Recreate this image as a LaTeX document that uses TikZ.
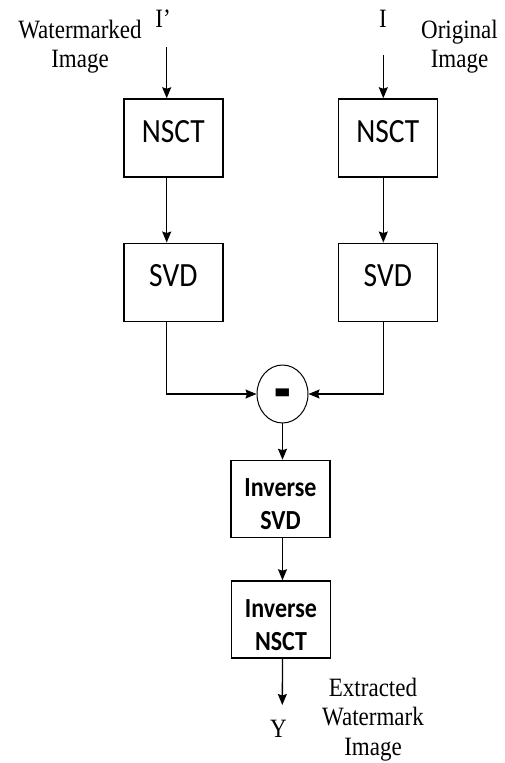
\documentclass[tikz,border=0pt]{standalone}
\usepackage{fontspec}
\setmainfont{Liberation Serif}
\newfontfamily\boxfont{Carlito}
\usepackage{graphicx}
\usetikzlibrary{arrows.meta,shapes.geometric}
\newcommand\vstr[1]{\scalebox{1}[1.15]{#1}}
\begin{document}
\begin{tikzpicture}[x=1pt,y=-1pt,
  box/.style={draw, line width=1.5pt, minimum width=99pt, minimum height=78pt, inner sep=0pt,
    font=\boxfont\fontsize{29.5}{34}\selectfont, text height=22pt, text depth=14pt},
  ibox/.style={draw, line width=1.5pt, minimum width=99pt, minimum height=77pt, inner sep=0pt,
    font=\boxfont\bfseries\fontsize{24}{29}\selectfont, text height=20pt, text depth=25pt},
  lab/.style={font=\fontsize{23}{26}\selectfont, inner sep=0pt, anchor=base},
  arr/.style={line width=1.3pt, -{Stealth[length=11pt,width=9pt,inset=1.5pt]}},
  ln/.style={line width=1.3pt}]
\useasboundingbox[fill=white] (0,0) rectangle (505,763);

% labels
\node[lab] (wm) at (80,38) {\vstr{\begin{tabular}[t]{@{}c@{}}Watermarked\\Image\end{tabular}}};
\node[lab] (ip) at (163,27) {\vstr{I’}};
\node[lab] (i) at (383,27) {\vstr{I}};
\node[lab] (orig) at (459.5,38) {\vstr{\begin{tabular}[t]{@{}c@{}}Original\\Image\end{tabular}}};
\node[lab] (y) at (278.5,737) {\vstr{Y}};
\node[lab] (ext) at (373,696) {\vstr{\begin{tabular}[t]{@{}c@{}}Extracted\\Watermark\\Image\end{tabular}}};

% boxes
\node[box] (n1) at (173.3,138) {\vstr{NSCT}};
\node[box] (n2) at (387.8,138) {\vstr{NSCT}};
\node[box] (s1) at (173.3,282.3) {\vstr{SVD}};
\node[box] (s2) at (387.8,282.3) {\vstr{SVD}};
\node[draw, ellipse, line width=1pt, minimum width=51pt, minimum height=57pt, inner sep=0pt,
  text height=41pt, text depth=0pt] (m) at (282.5,394)
  {\boxfont\bfseries\fontsize{40}{40}\selectfont\scalebox{1.35}[1.9]{-}};
\node[ibox] (inv1) at (280.5,499) {\vstr{\begin{tabular}[t]{@{}c@{}}Inverse\\SVD\end{tabular}}};
\node[ibox] (inv2) at (281,619.5) {\vstr{\begin{tabular}[t]{@{}c@{}}Inverse\\NSCT\end{tabular}}};

% connector endpoints
\coordinate (a1) at (166.7,47);
\coordinate (a2) at (383.3,55);
\coordinate (yend) at (282.3,705);

% connectors
\draw[arr] (a1) -- (a1 |- n1.north);
\draw[arr] (a2) -- (a2 |- n2.north);
\draw[arr] (a1 |- n1.south) -- (a1 |- s1.north);
\draw[arr] (a2 |- n2.south) -- (a2 |- s2.north);
\draw[arr] (a1 |- s1.south) |- (m.west);
\draw[arr] (a2 |- s2.south) |- (m.east);
\draw[arr] (m.south) -- (m.south |- inv1.north);
\draw[arr] (m.south |- inv1.south) -- (m.south |- inv2.north);
\draw[arr] (m.south |- inv2.south) -- (yend);
\end{tikzpicture}
\end{document}
